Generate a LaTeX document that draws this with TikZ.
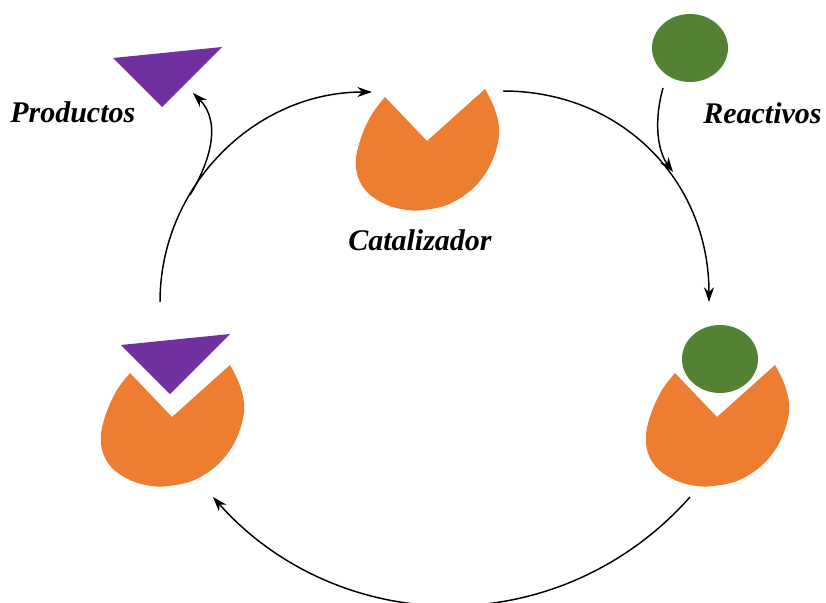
\documentclass[tikz,border=0pt]{standalone}
\usepackage{fontspec}
\setmainfont{Liberation Serif}
\usetikzlibrary{arrows.meta,shapes.geometric}
\definecolor{cato}{HTML}{ED7D31}
\definecolor{reacg}{HTML}{548235}
\definecolor{prodp}{HTML}{7030A0}
\tikzset{
  arr/.style={line width=1.1pt, -{Stealth[length=11pt,width=7.5pt,inset=3.5pt]}},
  lbl/.style={font=\fontsize{22.5}{27}\selectfont\bfseries\itshape, inner sep=0pt, anchor=base west},
  pacman/.pic={\fill[cato] plot[smooth, tension=0.6] coordinates {(-42,-44) (-55,-27) (-65,-6) (-71,17) (-69,36) (-59,52) (-40,64) (-20,69) (-4,69) (20,64) (43,50) (60,30) (70,6) (72,-14) (67,-34) (58,-52)} -- (0,0) -- cycle;},
  prodtri/.pic={\fill[prodp] (0,0) -- (109,-11) -- (49,49) -- cycle;},
  reacball/.style={fill=reacg, draw=none, ellipse, minimum width=57pt, minimum height=51pt, inner sep=0pt},
}
\begin{document}
\begin{tikzpicture}[x=0.75pt,y=-0.75pt]
\useasboundingbox (0,0) rectangle (826,603);
\clip (0,0) rectangle (826,603);

% shapes
\pic (cat) at (427,141) {pacman};
\pic (catL) at (172,417) {pacman};
\pic (catR) at (717,417) {pacman};
\pic (prod) at (113,58) {prodtri};
\pic (prodL) at (121,345) {prodtri};
\node[reacball] (reac) at (690,48) {};
\node[reacball] (reacR) at (720,359) {};

% labels
\node[lbl] (lprod) at (10,122) {Productos};
\node[lbl] (lcat) at (348,250) {Catalizador};
\node[lbl] (lreac) at (703,123) {Reactivos};

% connector end points
\coordinate (L1) at (160,302);
\coordinate (L2) at (372,92);
\coordinate (R1) at (503,91);
\coordinate (R2) at (709,302);
\coordinate (B1) at (690,497);
\coordinate (Bm) at (450,606);
\coordinate (B2) at (213,497);
\coordinate (P1) at (190,195);
\coordinate (P2) at (193,93);
\coordinate (Q1) at (663,88);
\coordinate (Q2) at (673,172);

% connectors
\draw[arr] (L1) .. controls (160,186) and (255,92) .. (L2);
\draw[arr] (R1) .. controls (622,91) and (709,181) .. (R2);
\draw[arr] (B1) .. controls (629,566) and (542,606) .. (Bm) .. controls (358,606) and (274,566) .. (B2);
\draw[arr] (P1) .. controls (210,162) and (222,122) .. (P2);
\draw[arr] (Q1) .. controls (654,120) and (657,150) .. (Q2);
\end{tikzpicture}
\end{document}
